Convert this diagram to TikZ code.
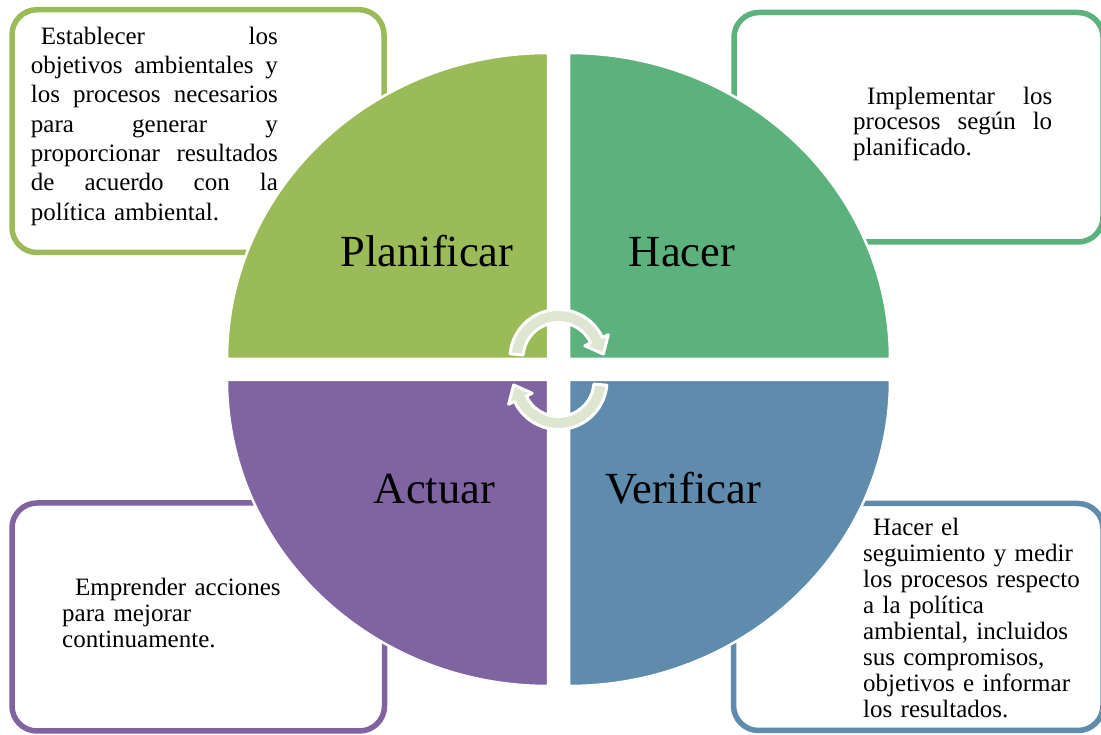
\documentclass[tikz,border=0pt]{standalone}
\usepackage{fontspec}
\setmainfont{Liberation Serif}
\definecolor{cPlan}{HTML}{9BBB59}
\definecolor{cHacer}{HTML}{5CB27C}
\definecolor{cVer}{HTML}{5F8BAD}
\definecolor{cAct}{HTML}{8064A2}
\definecolor{cArrow}{HTML}{DEE5D1}
\newcommand{\jl}[2]{\leavevmode\hbox to #1{#2}}
\def\g{\hfill}
\tikzset{
  box/.style={line width=5.5pt, fill=white, rounded corners=25pt},
  quad/.style={draw=white, line width=2.5pt},
  lbl/.style={anchor=base, inner sep=0pt, font=\fontsize{44.5}{50}\selectfont},
  body/.style={anchor=north west, inner sep=0pt, align=left},
  cyc/.style={fill=cArrow, draw=white, line width=3pt, line join=round},
}
\begin{document}
\begin{tikzpicture}[x=1pt,y=1pt]
\useasboundingbox (0,0) rectangle (1101,734);
\clip (0,0) rectangle (1101,734);
% boxes
\draw[box, draw=cPlan] (12,481.5) rectangle (384,724.3);
\draw[box, draw=cHacer] (734,492) rectangle (1103,721.5);
\draw[box, draw=cAct] (12,3) rectangle (384.5,231);
\draw[box, draw=cVer] (733.5,3.5) rectangle (1103,230.5);
% quadrants
\path[quad, fill=cPlan] (548,375) -- ++(-321,0) arc[start angle=180, end angle=90, x radius=321pt, y radius=306pt] -- cycle;
\path[quad, fill=cHacer] (569,375) -- ++(0,306) arc[start angle=90, end angle=0, x radius=321pt, y radius=306pt] -- cycle;
\path[quad, fill=cAct] (548,354) -- ++(-321,0) arc[start angle=180, end angle=270, x radius=321pt, y radius=306pt] -- cycle;
\path[quad, fill=cVer] (569,354) -- ++(321,0) arc[start angle=0, end angle=-90, x radius=321pt, y radius=306pt] -- cycle;
% labels
\node[lbl] (plan) at (427,467.3) {Planificar};
\node[lbl] (hacer) at (682,467.3) {Hacer};
\node[lbl] (actuar) at (434.5,230.7) {Actuar};
\node[lbl] (verif) at (683,230.7) {Verificar};
% box texts
\node[body, font=\fontsize{25}{29.33}\selectfont, text width=247pt] (tplan) at (30.7,708) {%
\jl{247pt}{\rule{0pt}{18pt}\hspace*{10pt}Establecer\g los}\\
\jl{247pt}{objetivos\g ambientales\g y}\\
\jl{247pt}{los\g procesos\g necesarios}\\
\jl{247pt}{para\g generar\g y}\\
\jl{247pt}{proporcionar\g resultados}\\
\jl{247pt}{de\g acuerdo\g con\g la}\\
política ambiental.};
\node[body, font=\fontsize{25}{25.5}\selectfont, text width=199pt] (thacer) at (853,648) {%
\jl{199pt}{\rule{0pt}{18pt}\hspace*{14pt}Implementar\g los}\\
\jl{199pt}{procesos\g según\g lo}\\
planificado.};
\node[body, font=\fontsize{25}{26}\selectfont, text width=240pt] (tact) at (62,157) {%
\rule{0pt}{18pt}\hspace*{13pt}Emprender acciones\\
para mejorar\\
continuamente.};
\node[body, font=\fontsize{25}{26}\selectfont, text width=232pt] (tver) at (863,217) {%
\rule{0pt}{18pt}\hspace*{10pt}Hacer el\\
seguimiento y medir\\
los procesos respecto\\
a la política\\
ambiental, incluidos\\
sus compromisos,\\
objetivos e informar\\
los resultados.};
% cycle arrows
\foreach \r in {0,180} {
\begin{scope}[shift={(558.5,364.5)}, rotate=\r, shift={(0,11.5)}]
\path[cyc] (175:48.5pt) arc[start angle=175, end angle=25, radius=48.5pt]
  -- (25:55pt) -- (5:45pt) -- (25:29pt) -- (25:35.5pt)
  arc[start angle=25, end angle=175, radius=35.5pt] -- cycle;
\end{scope}
}
\end{tikzpicture}
\end{document}
